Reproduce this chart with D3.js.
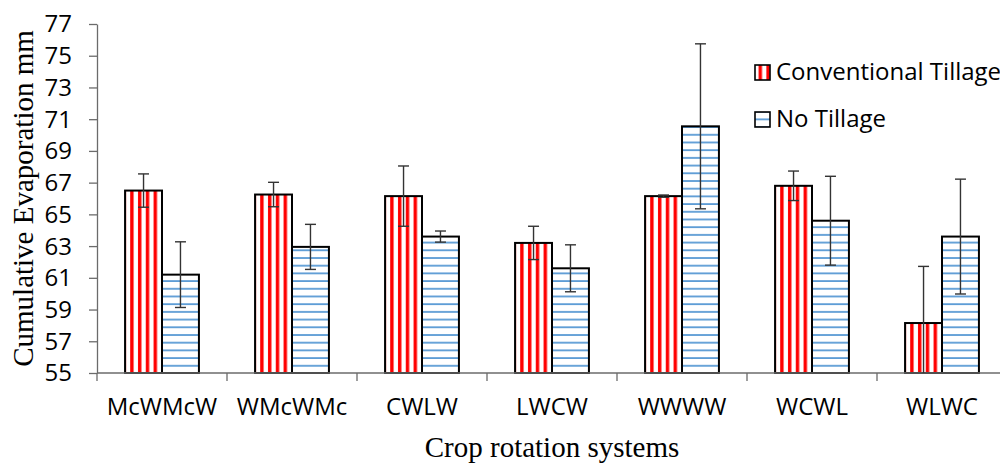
<!DOCTYPE html>
<html>
<head>
<meta charset="utf-8">
<script src="https://cdn.jsdelivr.net/npm/d3@7"></script>
<style>
  body { margin: 0; background: #fff; }
  svg { display: block; }
</style>
</head>
<body>
<svg id="chart" width="1000" height="463"></svg>
<script>
// chart data
var categories = ["McWMcW", "WMcWMc", "CWLW", "LWCW", "WWWW", "WCWL", "WLWC"];
var seriesNames = ["Conventional Tillage", "No Tillage"];
var ctValues = [66.5, 66.25, 66.15, 63.2, 66.15, 66.8, 58.15];
var ctErrors = [1.05, 0.77, 1.9, 1.05, 0.07, 0.93, 3.57];
var ntValues = [61.2, 62.95, 63.6, 61.6, 70.55, 64.6, 63.6];
var ntErrors = [2.07, 1.42, 0.35, 1.48, 5.2, 2.8, 3.62];
var yTicks = [55, 57, 59, 61, 63, 65, 67, 69, 71, 73, 75, 77];

function initBarchart() {
  var svg = d3.select("#chart");

  // plot area (runs a little past the right edge like the original)
  var left = 97, right = 1007, top = 24, bottom = 373;

  var sansFont = "'Open Sans', sans-serif";
  var serifFont = "'Liberation Serif', 'Times New Roman', serif";

  // patterns for the two series
  var defs = svg.append("defs");
  var ctPat = defs.append("pattern")
    .attr("id", "ctPattern")
    .attr("patternUnits", "userSpaceOnUse")
    .attr("width", 7.8)
    .attr("height", 8);
  ctPat.append("rect").attr("width", 7.8).attr("height", 8).attr("fill", "#fff");
  ctPat.append("rect").attr("x", 2).attr("width", 3.4).attr("height", 8).attr("fill", "#ff0000");

  var ntPat = defs.append("pattern")
    .attr("id", "ntPattern")
    .attr("patternUnits", "userSpaceOnUse")
    .attr("width", 8)
    .attr("height", 7.7);
  ntPat.append("rect").attr("width", 8).attr("height", 7.7).attr("fill", "#fff");
  ntPat.append("rect").attr("y", 3).attr("width", 8).attr("height", 1.8).attr("fill", "#5b9bd5");

  defs.append("clipPath")
    .attr("id", "plotClip")
    .append("rect")
    .attr("x", left)
    .attr("y", 0)
    .attr("width", right - left)
    .attr("height", bottom);

  // scales
  var x = d3.scaleBand().domain(categories).range([left, right]).padding(0);
  var x1 = d3.scaleBand()
    .domain(seriesNames)
    .range([0, x.bandwidth()])
    .paddingInner(0)
    .paddingOuter(0.76);
  var y = d3.scaleLinear().domain([55, 77]).range([bottom, top]);

  var rows = categories.map(function (c, i) {
    return {
      cat: c,
      bars: [
        { key: seriesNames[0], value: ctValues[i], err: ctErrors[i], fill: "url(#ctPattern)" },
        { key: seriesNames[1], value: ntValues[i], err: ntErrors[i], fill: "url(#ntPattern)" }
      ]
    };
  });

  // Y axis
  var yAxis = svg.append("g")
    .attr("transform", "translate(" + left + ",0)")
    .call(d3.axisLeft(y).tickValues(yTicks).tickSize(8).tickSizeOuter(0).tickFormat(d3.format("d")));
  yAxis.select(".domain").attr("stroke", "#6b6b6b").attr("stroke-width", 1.3);
  yAxis.selectAll(".tick line").attr("stroke", "#6b6b6b").attr("stroke-width", 1.3);
  yAxis.selectAll(".tick text")
    .attr("x", -25)
    .attr("dy", "0.33em")
    .attr("fill", "#000")
    .style("font-family", sansFont)
    .style("font-size", "24px");

  // bars
  var groups = svg.append("g")
    .selectAll("g")
    .data(rows)
    .enter()
    .append("g")
    .attr("transform", function (d) { return "translate(" + x(d.cat) + ",0)"; });

  groups.selectAll("rect")
    .data(function (d) { return d.bars; })
    .enter()
    .append("rect")
    .attr("x", function (d) { return x1(d.key); })
    .attr("y", function (d) { return y(d.value); })
    .attr("width", x1.bandwidth())
    .attr("height", function (d) { return y(55) - y(d.value); })
    .attr("fill", function (d) { return d.fill; })
    .attr("stroke", "#000")
    .attr("stroke-width", 2);

  // X axis: line and ticks at category boundaries
  var xAxis = svg.append("g");
  xAxis.append("line")
    .attr("x1", left).attr("x2", right)
    .attr("y1", bottom).attr("y2", bottom)
    .attr("stroke", "#6b6b6b").attr("stroke-width", 1.3);
  xAxis.selectAll(".xtick")
    .data(categories.concat(["end"]))
    .enter()
    .append("line")
    .attr("x1", function (d, i) { return left + i * x.step(); })
    .attr("x2", function (d, i) { return left + i * x.step(); })
    .attr("y1", bottom).attr("y2", bottom + 8)
    .attr("stroke", "#6b6b6b").attr("stroke-width", 1.3);
  xAxis.selectAll(".xlabel")
    .data(categories)
    .enter()
    .append("text")
    .attr("x", function (d) { return x(d) + x.bandwidth() / 2; })
    .attr("y", 415)
    .attr("text-anchor", "middle")
    .style("font-family", sansFont)
    .style("font-size", "24px")
    .text(function (d) { return d; });

  // error bars, drawn over the bars and clipped to the plot
  var errG = svg.append("g").attr("clip-path", "url(#plotClip)");
  rows.forEach(function (r) {
    r.bars.forEach(function (b) {
      var cx = x(r.cat) + x1(b.key) + x1.bandwidth() / 2;
      var y0 = y(b.value + b.err), y1 = y(b.value - b.err);
      var g = errG.append("g").attr("stroke", "#333").attr("stroke-width", 1.4);
      g.append("line").attr("x1", cx).attr("x2", cx).attr("y1", y0).attr("y2", y1);
      g.append("line").attr("x1", cx - 5.5).attr("x2", cx + 5.5).attr("y1", y0).attr("y2", y0);
      g.append("line").attr("x1", cx - 5.5).attr("x2", cx + 5.5).attr("y1", y1).attr("y2", y1);
    });
  });

  // legend
  var legend = svg.append("g");
  var legendFills = ["url(#ctPattern)", "url(#ntPattern)"];
  seriesNames.forEach(function (name, i) {
    var ly = 65 + i * 47;
    legend.append("rect")
      .attr("x", 755).attr("y", ly)
      .attr("width", 15).attr("height", 15)
      .attr("fill", legendFills[i])
      .attr("stroke", "#000").attr("stroke-width", 1.6);
    legend.append("text")
      .attr("x", 776).attr("y", ly + 15)
      .style("font-family", sansFont)
      .style("font-size", "24px")
      .text(name);
  });

  // axis titles
  svg.append("text")
    .attr("transform", "translate(33," + (top + bottom) / 2 + ") rotate(-90)")
    .attr("text-anchor", "middle")
    .style("font-family", serifFont)
    .style("font-size", "29px")
    .text("Cumulative Evaporation mm");

  svg.append("text")
    .attr("x", (left + right) / 2)
    .attr("y", 457)
    .attr("text-anchor", "middle")
    .style("font-family", serifFont)
    .style("font-size", "29px")
    .text("Crop rotation systems");
}
initBarchart();
</script>
</body>
</html>
